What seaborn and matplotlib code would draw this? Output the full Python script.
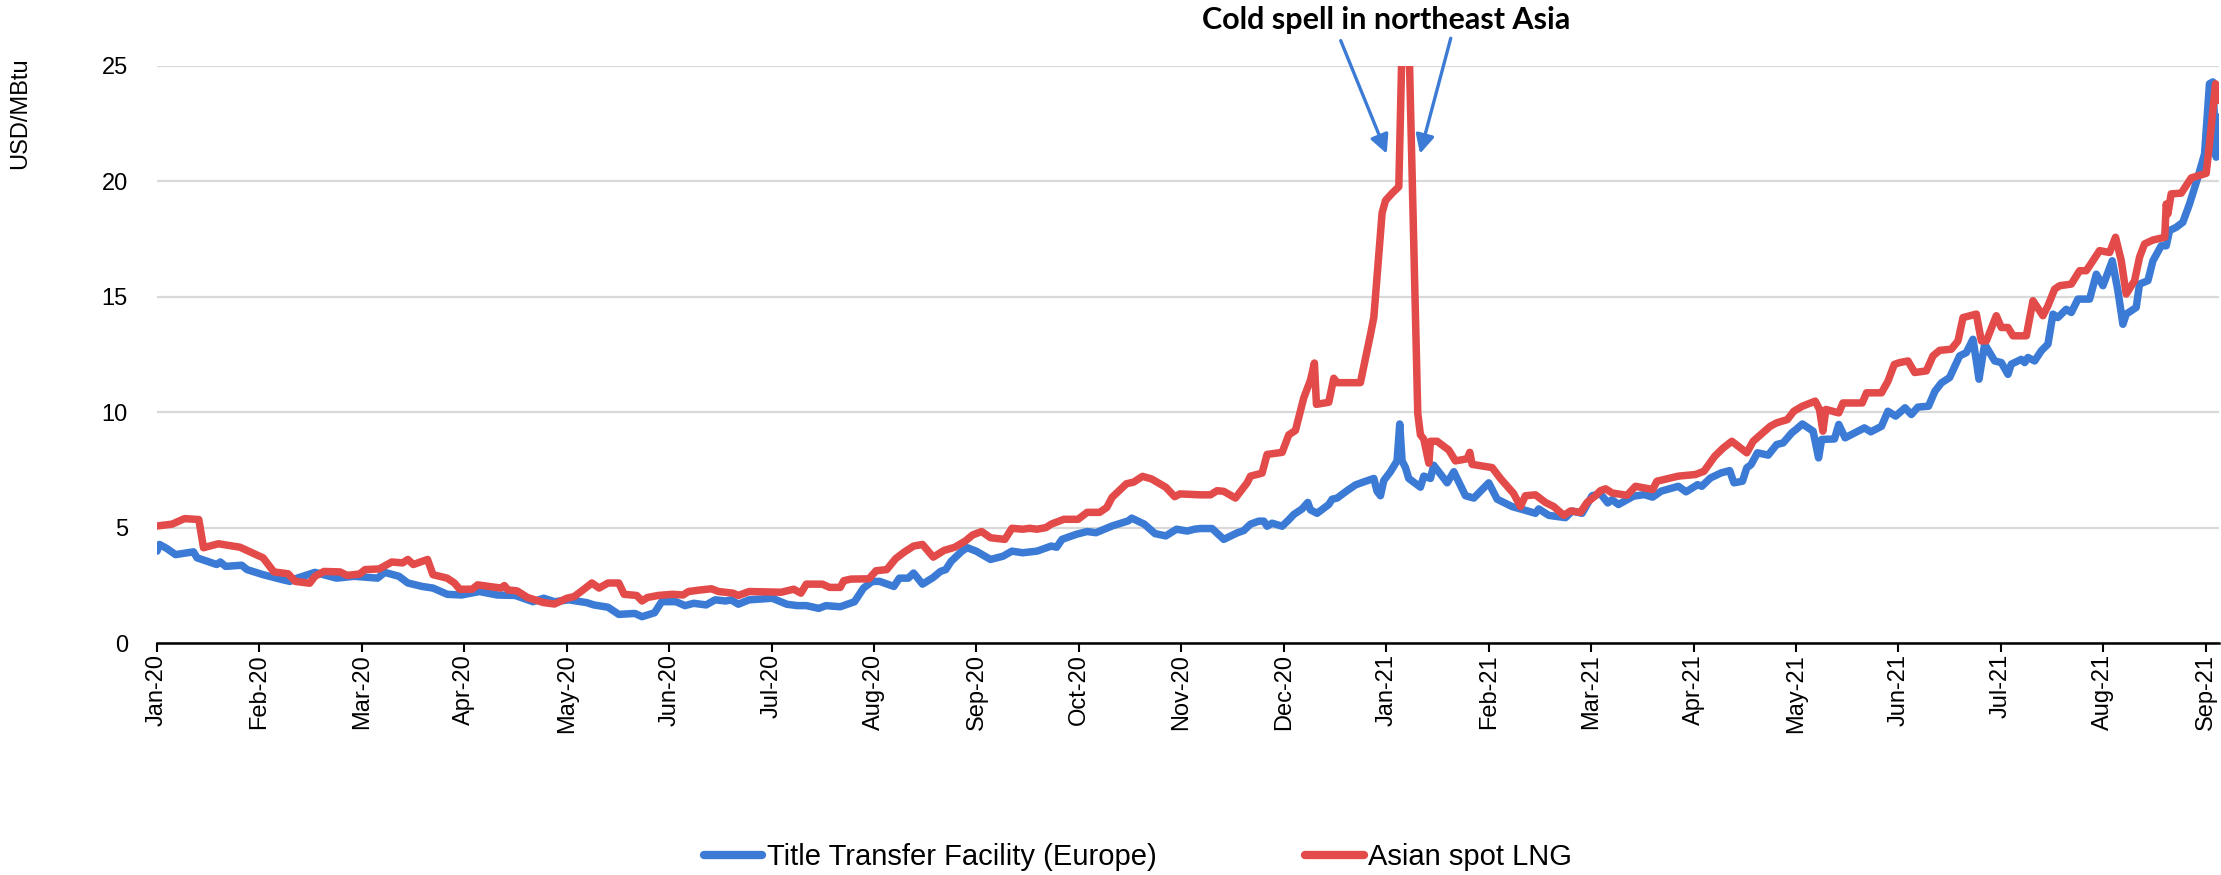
import numpy as np
import pandas as pd
import matplotlib
matplotlib.use("Agg")
import matplotlib.pyplot as plt
import seaborn as sns

# ---------------------------------------------------------------------------
# Data: gas prices in USD/MBtu, time given as months elapsed since 1 Jan 2020
# ---------------------------------------------------------------------------
month_labels = ["Jan-20", "Feb-20", "Mar-20", "Apr-20", "May-20", "Jun-20",
                "Jul-20", "Aug-20", "Sep-20", "Oct-20", "Nov-20", "Dec-20",
                "Jan-21", "Feb-21", "Mar-21", "Apr-21", "May-21", "Jun-21",
                "Jul-21", "Aug-21", "Sep-21"]

ttf_t = [0.000, 0.024, 0.094, 0.181, 0.356, 0.391, 0.583, 0.618, 0.670, 0.827,
         0.879, 1.036, 1.228, 1.298, 1.368, 1.542, 1.752, 1.926, 2.153, 2.223,
         2.362, 2.449, 2.589, 2.694, 2.833, 2.973, 3.147, 3.322, 3.496, 3.671,
         3.775, 3.880, 4.020, 4.194, 4.264, 4.403, 4.508, 4.665, 4.735, 4.857,
         4.927, 5.066, 5.154, 5.239, 5.361, 5.448, 5.553, 5.605, 5.675, 5.780,
         6.007, 6.147, 6.251, 6.339, 6.461, 6.531, 6.670, 6.740, 6.810, 6.897,
         6.984, 7.054, 7.194, 7.247, 7.334, 7.386, 7.473, 7.578, 7.648, 7.700,
         7.753, 7.858, 7.910, 7.997, 8.137, 8.259, 8.346, 8.451, 8.591, 8.730,
         8.783, 8.835, 8.975, 9.080, 9.167, 9.324, 9.481, 9.516, 9.638, 9.743,
         9.848, 9.953, 10.057, 10.127, 10.186, 10.300, 10.414, 10.544, 10.609,
         10.675, 10.756, 10.805, 10.837, 10.886, 10.984, 11.049, 11.098, 11.179,
         11.234, 11.260, 11.325, 11.439, 11.472, 11.521, 11.618, 11.700, 11.781,
         11.879, 11.911, 11.944, 11.976, 12.041, 12.106, 12.132, 12.155, 12.188,
         12.220, 12.334, 12.367, 12.432, 12.464, 12.595, 12.660, 12.774, 12.855,
         13.001, 13.083, 13.229, 13.310, 13.457, 13.489, 13.587, 13.750, 13.815,
         13.912, 14.010, 14.091, 14.163, 14.205, 14.267, 14.413, 14.518, 14.601,
         14.685, 14.852, 14.927, 15.040, 15.081, 15.165, 15.269, 15.353, 15.395,
         15.478, 15.520, 15.562, 15.624, 15.729, 15.812, 15.875, 15.958, 16.000,
         16.063, 16.167, 16.221, 16.251, 16.376, 16.418, 16.480, 16.668, 16.731,
         16.835, 16.898, 16.973, 17.065, 17.127, 17.190, 17.294, 17.357, 17.420,
         17.500, 17.598, 17.663, 17.728, 17.761, 17.787, 17.842, 17.940, 18.005,
         18.070, 18.102, 18.200, 18.233, 18.265, 18.330, 18.395, 18.460, 18.509,
         18.557, 18.639, 18.688, 18.753, 18.867, 18.932, 18.997, 19.088, 19.143,
         19.192, 19.224, 19.322, 19.354, 19.436, 19.485, 19.566, 19.615, 19.647,
         19.712, 19.777, 19.842, 19.924, 19.989, 20.037, 20.070, 20.102, 20.128]
ttf_usd = [3.98, 4.27, 4.10, 3.83, 3.95, 3.69, 3.40, 3.51, 3.32, 3.37,
           3.18, 2.96, 2.74, 2.67, 2.81, 3.06, 2.81, 2.89, 2.81, 3.06,
           2.89, 2.60, 2.45, 2.38, 2.11, 2.08, 2.23, 2.08, 2.06, 1.79,
           1.94, 1.79, 1.87, 1.75, 1.65, 1.55, 1.24, 1.28, 1.14, 1.31,
           1.79, 1.79, 1.62, 1.72, 1.65, 1.87, 1.82, 1.87, 1.68, 1.87,
           1.94, 1.68, 1.62, 1.62, 1.50, 1.62, 1.57, 1.68, 1.79, 2.38,
           2.67, 2.67, 2.45, 2.81, 2.81, 3.03, 2.55, 2.84, 3.10, 3.18,
           3.54, 3.98, 4.13, 3.98, 3.62, 3.76, 3.98, 3.91, 3.98, 4.20,
           4.15, 4.49, 4.71, 4.83, 4.78, 5.07, 5.29, 5.41, 5.15, 4.74,
           4.64, 4.93, 4.85, 4.93, 4.96, 4.96, 4.49, 4.77, 4.87,
           5.15, 5.28, 5.28, 5.06, 5.19, 5.06, 5.34, 5.57, 5.81,
           6.09, 5.77, 5.62, 6.00, 6.23, 6.28, 6.60, 6.85, 6.98,
           7.13, 6.57, 6.38, 7.04, 7.42, 7.89, 9.49, 7.89, 7.60,
           7.13, 6.75, 7.23, 7.13, 7.70, 6.94, 7.42, 6.38, 6.28,
           6.94, 6.23, 5.91, 5.81, 5.62, 5.81, 5.53, 5.43, 5.72,
           5.62, 6.38, 6.47, 6.07, 6.21, 6.00, 6.36, 6.43, 6.32,
           6.58, 6.79, 6.55, 6.86, 6.79, 7.15, 7.37, 7.47, 6.94,
           7.01, 7.59, 7.73, 8.24, 8.14, 8.60, 8.67, 9.10, 9.25,
           9.49, 9.18, 8.02, 8.82, 8.84, 9.47, 8.89, 9.32, 9.15,
           9.39, 10.04, 9.83, 10.19, 9.90, 10.22, 10.26, 10.91, 11.27,
           11.50, 12.44, 12.58, 13.16, 12.22, 11.43, 12.95, 12.22, 12.15,
           11.64, 12.08, 12.29, 12.15, 12.37, 12.22, 12.66, 12.95, 14.25,
           14.10, 14.46, 14.32, 14.90, 14.90, 15.98, 15.48, 16.56, 15.26,
           13.81, 14.25, 14.54, 15.55, 15.70, 16.56, 17.21, 17.21, 17.87,
           18.01, 18.23, 19.02, 20.18, 21.19, 24.23, 24.31, 21.05, 22.79]

lng_t = [0.000, 0.147, 0.269, 0.408, 0.454, 0.600, 0.810, 0.914, 1.036, 1.141,
         1.280, 1.350, 1.490, 1.542, 1.630, 1.786, 1.856, 1.978, 2.031, 2.170,
         2.292, 2.397, 2.449, 2.502, 2.641, 2.694, 2.833, 2.903, 2.955, 3.077,
         3.130, 3.357, 3.391, 3.426, 3.514, 3.618, 3.775, 3.880, 4.002, 4.072,
         4.159, 4.246, 4.316, 4.403, 4.508, 4.560, 4.683, 4.735, 4.787, 4.892,
         5.031, 5.136, 5.188, 5.309, 5.413, 5.483, 5.623, 5.675, 5.780, 6.094,
         6.216, 6.286, 6.339, 6.496, 6.566, 6.670, 6.705, 6.775, 6.950, 7.020,
         7.124, 7.212, 7.299, 7.386, 7.473, 7.578, 7.683, 7.788, 7.892, 7.962,
         8.050, 8.137, 8.277, 8.346, 8.451, 8.521, 8.591, 8.678, 8.730, 8.853,
         8.992, 9.080, 9.202, 9.272, 9.324, 9.464, 9.534, 9.621, 9.708, 9.848,
         9.935, 9.987, 10.186, 10.284, 10.349, 10.414, 10.528, 10.593, 10.642,
         10.675, 10.788, 10.837, 10.984, 11.049, 11.114, 11.195, 11.260, 11.299,
         11.319, 11.439, 11.488, 11.521, 11.748, 11.846, 11.879, 11.960, 11.993,
         12.058, 12.123, 12.188, 12.308, 12.334, 12.367, 12.416, 12.432, 12.497,
         12.611, 12.676, 12.790, 12.816, 12.839, 13.034, 13.115, 13.245, 13.310,
         13.359, 13.457, 13.554, 13.636, 13.734, 13.799, 13.896, 13.961, 14.043,
         14.091, 14.142, 14.205, 14.351, 14.434, 14.601, 14.643, 14.852, 15.019,
         15.102, 15.207, 15.290, 15.374, 15.520, 15.582, 15.749, 15.812, 15.916,
         15.979, 16.063, 16.188, 16.230, 16.263, 16.292, 16.418, 16.459, 16.647,
         16.689, 16.835, 16.898, 16.960, 17.013, 17.094, 17.159, 17.273, 17.338,
         17.403, 17.517, 17.582, 17.631, 17.761, 17.810, 17.859, 17.956, 18.005,
         18.070, 18.119, 18.249, 18.314, 18.411, 18.460, 18.525, 18.574, 18.688,
         18.769, 18.834, 18.899, 18.964, 19.062, 19.120, 19.176, 19.224, 19.306,
         19.354, 19.403, 19.485, 19.600, 19.615, 19.631, 19.663, 19.761, 19.859,
         20.005, 20.037, 20.070, 20.096, 20.128]
lng_usd = [5.07, 5.15, 5.39, 5.35, 4.13, 4.30, 4.15, 3.94, 3.69, 3.08,
           3.00, 2.67, 2.59, 2.89, 3.10, 3.08, 2.93, 2.99, 3.18, 3.21,
           3.51, 3.47, 3.62, 3.40, 3.62, 2.96, 2.81, 2.60, 2.33, 2.33,
           2.52, 2.38, 2.49, 2.30, 2.26, 1.97, 1.75, 1.69, 1.94, 2.01,
           2.30, 2.60, 2.38, 2.60, 2.60, 2.11, 2.06, 1.82, 1.97, 2.06,
           2.11, 2.08, 2.23, 2.30, 2.35, 2.23, 2.16, 2.06, 2.23, 2.20,
           2.33, 2.16, 2.55, 2.55, 2.41, 2.41, 2.70, 2.77, 2.78, 3.13,
           3.18, 3.66, 3.95, 4.20, 4.27, 3.72, 4.01, 4.15, 4.42, 4.68,
           4.83, 4.56, 4.49, 4.97, 4.93, 4.97, 4.93, 5.00, 5.15, 5.36,
           5.36, 5.66, 5.66, 5.87, 6.31, 6.90, 6.97, 7.22, 7.11, 6.75,
           6.34, 6.46, 6.42, 6.42, 6.60, 6.57, 6.28, 6.66, 6.94,
           7.23, 7.36, 8.17, 8.26, 9.02, 9.21, 10.62, 11.38, 12.13,
           10.34, 10.43, 11.47, 11.28, 11.28, 13.36, 14.11, 18.64, 19.17,
           19.49, 19.77, 32.50, 9.96, 9.02, 8.83, 7.79, 8.74, 8.74,
           8.36, 7.89, 7.98, 8.26, 7.74, 7.60, 7.13, 6.47, 5.91,
           6.38, 6.42, 6.09, 5.91, 5.53, 5.72, 5.66, 6.09, 6.38,
           6.60, 6.68, 6.50, 6.40, 6.79, 6.65, 7.01, 7.23, 7.30,
           7.44, 8.09, 8.45, 8.74, 8.24, 8.74, 9.39, 9.54, 9.68,
           10.04, 10.26, 10.48, 10.12, 9.18, 10.12, 9.97, 10.40, 10.40,
           10.84, 10.84, 11.34, 12.07, 12.15, 12.22, 11.72, 11.79, 12.44,
           12.68, 12.73, 13.09, 14.10, 14.25, 13.09, 13.09, 14.18, 13.67,
           13.67, 13.31, 13.31, 14.83, 14.18, 14.61, 15.33, 15.48, 15.55,
           16.13, 16.13, 16.56, 17.00, 16.92, 17.58, 16.56, 15.12, 15.70,
           16.71, 17.29, 17.46, 17.58, 19.02, 18.59, 19.46, 19.49, 20.15,
           20.35, 21.63, 23.08, 24.23, 23.51]

series_names = ["Title Transfer Facility (Europe)", "Asian spot LNG"]
series_colors = ["#3c7bd5", "#e24b4a"]
y_ticks = [0, 5, 10, 15, 20, 25]
note_text = "Cold spell in northeast Asia"

df = pd.concat([
    pd.DataFrame({"t": ttf_t, "usd": ttf_usd, "series": series_names[0]}),
    pd.DataFrame({"t": lng_t, "usd": lng_usd, "series": series_names[1]}),
], ignore_index=True)

# ---------------------------------------------------------------------------
# Figure
# ---------------------------------------------------------------------------
sns.set_theme(style="white")
plt.rcParams["font.family"] = ["Liberation Sans", "DejaVu Sans"]

W, H = 2221, 875
fig = plt.figure(figsize=(W / 100, H / 100), dpi=100)
ax = fig.add_axes([157 / W, (H - 643) / H, (2219 - 157) / W, (643 - 66) / H])

sns.lineplot(data=df, x="t", y="usd", hue="series", hue_order=series_names,
             palette=series_colors, estimator=None, sort=False, errorbar=None,
             linewidth=5.4, solid_joinstyle="round", solid_capstyle="round",
             legend=False, ax=ax)

ax.set_xlim(0, 20.13)
ax.set_ylim(0, 25)
ax.set_xticks(range(len(month_labels)))
ax.set_xticklabels(month_labels, rotation=90)
ax.set_yticks(y_ticks)
ax.set_xlabel("")
ax.set_ylabel("")

ax.yaxis.grid(True, color="#d9d9d9", linewidth=1.6)
ax.xaxis.grid(False)
ax.set_axisbelow(True)
for side in ("left", "right", "top"):
    ax.spines[side].set_visible(False)
ax.spines["bottom"].set_color("black")
ax.spines["bottom"].set_linewidth(1.8)

ax.tick_params(axis="x", bottom=True, direction="out", length=6.5, width=1.5,
               color="black", pad=1.5, labelsize=17, labelcolor="black")
ax.tick_params(axis="y", left=False, length=0, pad=21, labelsize=17,
               labelcolor="black")

fig.text(20 / W, 1 - 113 / H, "USD/MBtu", rotation=90, ha="center",
         va="center", fontsize=17, color="black")

# Annotation for the January 2021 price spike
ax.text(12.0, 27.0, note_text, ha="center", va="center", fontsize=22,
        fontweight="bold", family=["Lato", "DejaVu Sans"], color="black",
        clip_on=False)
arrow_style = dict(arrowstyle="-|>", color=series_colors[0], lw=2.4,
                   mutation_scale=28, shrinkA=0, shrinkB=0)
ax.annotate("", xy=(12.005, 21.2), xytext=(11.556, 26.1),
            arrowprops=arrow_style, annotation_clip=False)
ax.annotate("", xy=(12.33, 21.2), xytext=(12.63, 26.2),
            arrowprops=arrow_style, annotation_clip=False)

# Legend below the axis
handles = ax.get_lines()[:2]
leg = fig.legend(handles, series_names, loc="center", ncol=2,
                 bbox_to_anchor=(1138 / W, 18 / H), frameon=False,
                 handlelength=2.0, handletextpad=0.15, columnspacing=5.1,
                 prop={"family": ["Liberation Sans", "DejaVu Sans"],
                       "size": 21})
for txt in leg.get_texts():
    txt.set_color("black")
for ln in leg.get_lines():
    ln.set_linewidth(6)

fig.savefig("out.png", dpi=100)
